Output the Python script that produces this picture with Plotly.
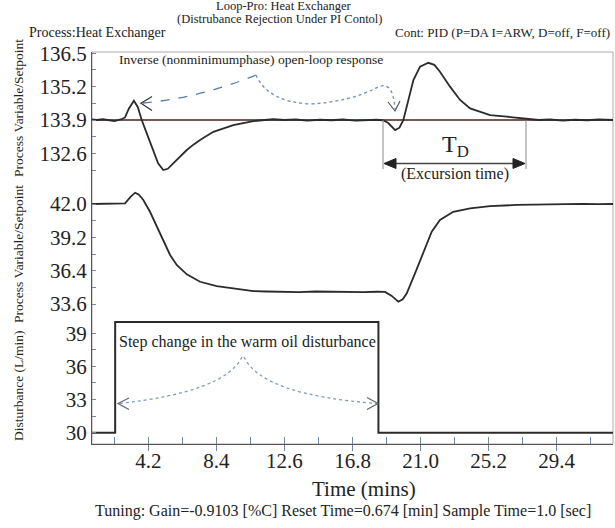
import plotly.graph_objects as go

# ---------------- data ----------------
time_pv_top = [0.72, 1.0, 1.4, 1.8, 2.1, 2.5, 2.76, 3.0, 3.31, 3.55, 3.79, 4.1, 4.5, 4.8,
               5.12, 5.4, 5.72, 6.1, 6.57, 7.0, 7.39, 8.21, 9.44, 10.68, 11.9, 12.6, 13.3,
               14.0, 14.8, 15.5, 16.2, 17.0, 17.7, 18.3, 18.7, 19.01, 19.43, 19.7, 19.94,
               20.25, 20.56, 20.97, 21.48, 21.85, 22.2, 22.82, 23.44, 24.06, 24.67, 25.29,
               26.32, 27.56, 28.3, 29.0, 29.8, 30.5, 31.3, 32.0, 32.88]
pv_top = [133.92, 133.90, 133.93, 133.88, 133.86, 133.92, 134.00, 134.35, 134.65, 134.40,
          133.90, 133.38, 132.73, 132.21, 131.95, 132.00, 132.20, 132.45, 132.73, 132.95,
          133.12, 133.44, 133.70, 133.86, 133.93, 133.90, 133.92, 133.88, 133.91, 133.89,
          133.92, 133.88, 133.90, 133.91, 133.89, 133.78, 133.51, 133.60, 133.90, 134.70,
          135.46, 135.98, 136.13, 136.05, 135.78, 135.20, 134.68, 134.35, 134.22, 134.09,
          134.03, 133.95, 133.90, 133.92, 133.88, 133.91, 133.89, 133.92, 133.90]
time_sp_top = [0.72, 32.88]
sp_top = [133.9, 133.9]

time_pv_mid = [0.72, 1.2, 1.7, 2.2, 2.76, 3.1, 3.38, 3.6, 3.89, 4.3, 4.72, 5.12, 5.54, 5.95,
               6.57, 7.39, 8.42, 9.44, 10.68, 11.5, 12.53, 13.5, 14.5, 15.5, 16.5, 17.5,
               18.3, 18.81, 19.2, 19.63, 19.9, 20.15, 20.66, 21.17, 21.69, 22.2, 23.02,
               24.06, 25.29, 26.94, 29.0, 30.0, 31.0, 32.0, 32.88]
pv_mid = [42.00, 42.02, 41.98, 42.00, 42.05, 42.60, 42.95, 42.80, 42.34, 41.35, 40.10,
          38.83, 37.72, 36.88, 36.09, 35.47, 35.11, 34.92, 34.69, 34.65, 34.63, 34.60,
          34.65, 34.62, 34.64, 34.60, 34.63, 34.62, 34.30, 33.79, 34.00, 34.50, 36.18,
          37.99, 39.67, 40.66, 41.35, 41.64, 41.83, 41.92, 42.00, 41.98, 42.02, 41.99, 42.00]

time_dist = [0.72, 2.15, 18.4, 32.88]
disturbance = [30, 40, 30, 30]

x_tick_vals = [4.2, 8.4, 12.6, 16.8, 21.0, 25.2, 29.4]
x_tick_text = ["4.2", "8.4", "12.6", "16.8", "21.0", "25.2", "29.4"]
y_top_ticks = [132.6, 133.9, 135.2, 136.5]
y_mid_ticks = [33.6, 36.4, 39.2, 42.0]
y_bot_ticks = [30, 33, 36, 39]

# ---------------- layout helpers ----------------
W, H = 615, 528
ML, MR, MT, MB = 92, 2, 52, 84
PW, PH = W - ML - MR, H - MT - MB
SERIF = "Liberation Serif, Times New Roman, serif"
TICKC = "#7486a6"
DARK = "#2b2b2b"


def fx(p):
    return (p - ML) / PW


def fy(p):
    return (MT + PH - p) / PH


def path(cmds):
    out = []
    for c in cmds:
        if isinstance(c, str):
            out.append(c)
        else:
            out.append(f"{fx(c[0]):.5f},{fy(c[1]):.5f}")
    return " ".join(out)


fig = go.Figure()
fig.add_trace(go.Scatter(x=time_sp_top, y=sp_top, mode="lines", yaxis="y",
                         line=dict(color="#4a1f1f", width=1.6), hoverinfo="skip"))
fig.add_trace(go.Scatter(x=time_pv_top, y=pv_top, mode="lines", yaxis="y",
                         line=dict(color=DARK, width=1.8)))
fig.add_trace(go.Scatter(x=time_pv_mid, y=pv_mid, mode="lines", yaxis="y2",
                         line=dict(color=DARK, width=1.8)))
fig.add_trace(go.Scatter(x=time_dist, y=disturbance, mode="lines", yaxis="y3",
                         line=dict(color=DARK, width=2, shape="hv")))

d_top = (444 - 187) / PH
d_mid = (444 - 317.7) / PH

yax_common = dict(showline=True, linecolor="#555", linewidth=1.2, showgrid=False,
                  zeroline=False, ticks="inside", ticklen=4, tickcolor=TICKC,
                  tickfont=dict(family=SERIF, size=21, color="#222"), anchor="x")

fig.update_layout(
    width=W, height=H,
    margin=dict(l=ML, r=MR, t=MT, b=MB),
    paper_bgcolor="white", plot_bgcolor="white",
    showlegend=False,
    xaxis=dict(range=[0.72, 32.88], anchor="y3", showline=True, linecolor="#555",
               linewidth=1.2, showgrid=False, zeroline=False,
               tickvals=x_tick_vals, ticktext=x_tick_text, ticks="outside", ticklen=6,
               ticklabelstandoff=-8,
               tickcolor=TICKC, tickfont=dict(family=SERIF, size=21, color="#222"),
               minor=dict(dtick=2.1, tick0=0, ticks="inside", ticklen=7, tickcolor=TICKC)),
    yaxis=dict(domain=[d_top, 1], range=[131.29, 136.55], tickvals=y_top_ticks,
               ticktext=[f"{v:.1f}" for v in y_top_ticks],
               minor=dict(dtick=0.65, tick0=132.6, ticks="inside", ticklen=4, tickcolor=TICKC),
               **yax_common),
    yaxis2=dict(domain=[d_mid, d_top], range=[32.45, 43.43], tickvals=y_mid_ticks,
                ticktext=[f"{v:.1f}" for v in y_mid_ticks],
                minor=dict(dtick=1.4, tick0=33.6, ticks="inside", ticklen=4, tickcolor=TICKC),
                **yax_common),
    yaxis3=dict(domain=[0, d_mid], range=[28.98, 40.4], tickvals=y_bot_ticks,
                ticktext=[str(v) for v in y_bot_ticks],
                minor=dict(dtick=1.5, tick0=30, ticks="inside", ticklen=4, tickcolor=TICKC),
                **yax_common),
)

shapes = []
# outer frame (top/right)
shapes.append(dict(type="rect", xref="paper", yref="paper", x0=0, y0=0, x1=1, y1=1,
                   line=dict(color="#b8a8a8", width=1), layer="below"))
# dashed arrow to the first inverse response
shapes.append(dict(type="path", xref="paper", yref="paper",
                   path=path(["M", (256, 75), "Q", (200, 98), (143, 103)]),
                   line=dict(color="#5a7aa6", width=1.3, dash="dash")))
shapes.append(dict(type="path", xref="paper", yref="paper",
                   path=path(["M", (152, 96.5), "L", (141, 103.3), "L", (152, 110.5)]),
                   line=dict(color="#333", width=1.2)))
# dotted arrow to the second inverse response
shapes.append(dict(type="path", xref="paper", yref="paper",
                   path=path(["M", (256, 75), "Q", (268, 102), (310, 104),
                              "Q", (350, 102), (378, 87), "Q", (393, 80), (395, 109)]),
                   line=dict(color="#6f8fb6", width=1.3, dash="dot")))
shapes.append(dict(type="path", xref="paper", yref="paper",
                   path=path(["M", (388, 102), "L", (395, 111), "L", (400, 101)]),
                   line=dict(color="#555", width=1.2)))
# T_D excursion markers
for xv in (383, 526):
    shapes.append(dict(type="line", xref="paper", yref="paper", x0=fx(xv), x1=fx(xv),
                       y0=fy(120), y1=fy(169), line=dict(color="#8a8a8a", width=1)))
shapes.append(dict(type="line", xref="paper", yref="paper", x0=fx(392), x1=fx(517),
                   y0=fy(163.5), y1=fy(163.5), line=dict(color="#444", width=1.6)))
shapes.append(dict(type="path", xref="paper", yref="paper",
                   path=path(["M", (384, 163.5), "L", (396, 158.5), "L", (396, 168.5), "Z"]),
                   fillcolor="#222", line=dict(color="#222", width=1)))
shapes.append(dict(type="path", xref="paper", yref="paper",
                   path=path(["M", (525, 163.5), "L", (513, 158.5), "L", (513, 168.5), "Z"]),
                   fillcolor="#222", line=dict(color="#222", width=1)))
# dotted arrows in the disturbance panel
shapes.append(dict(type="path", xref="paper", yref="paper",
                   path=path(["M", (242, 357), "Q", (225, 392), (119, 403.5)]),
                   line=dict(color="#7f9cc0", width=1.3, dash="dot")))
shapes.append(dict(type="path", xref="paper", yref="paper",
                   path=path(["M", (244, 357), "Q", (262, 395), (377, 403.5)]),
                   line=dict(color="#7f9cc0", width=1.3, dash="dot")))
shapes.append(dict(type="path", xref="paper", yref="paper",
                   path=path(["M", (129, 398), "L", (118, 403.5), "L", (129, 409.5)]),
                   line=dict(color="#666", width=1.2)))
shapes.append(dict(type="path", xref="paper", yref="paper",
                   path=path(["M", (367, 397.5), "L", (378, 403.5), "L", (367, 409.5)]),
                   line=dict(color="#666", width=1.2)))
fig.update_layout(shapes=shapes)


def text(s, x, y, size, xanchor="center", angle=0, color="#222"):
    return dict(text=s, x=fx(x), y=fy(y), xref="paper", yref="paper", showarrow=False,
                xanchor=xanchor, yanchor="middle", textangle=angle,
                font=dict(family=SERIF, size=size, color=color))


annotations = [
    text("Loop-Pro: Heat Exchanger", 284, 6, 12.5),
    text("(Distrubance Rejection Under PI Contol)", 280, 19.5, 12.5),
    text("Process:Heat Exchanger", 27, 33, 14, xanchor="left"),
    text("Cont: PID (P=DA I=ARW, D=off, F=off)", 393, 33, 13, xanchor="left"),
    text("Process Variable/Setpoint", 18, 108, 13.5, angle=-90),
    text("Process Variable/Setpoint", 18, 254, 13.5, angle=-90),
    text("Disturbance (L/min)", 18, 386, 13.5, angle=-90),
    text("Inverse (nonminimumphase) open-loop response", 117, 59, 13.5, xanchor="left"),
    text("T<sub>D</sub>", 455, 146, 24),
    text("(Excursion time)", 455, 174, 16),
    text("Step change in the warm oil disturbance", 117, 342, 16, xanchor="left"),
    text("Time (mins)", 364, 489, 21),
    text("Tuning: Gain=-0.9103 [%C] Reset Time=0.674 [min] Sample Time=1.0 [sec]", 343, 511, 16),
]
fig.update_layout(annotations=annotations)

fig.write_html("out.html")
